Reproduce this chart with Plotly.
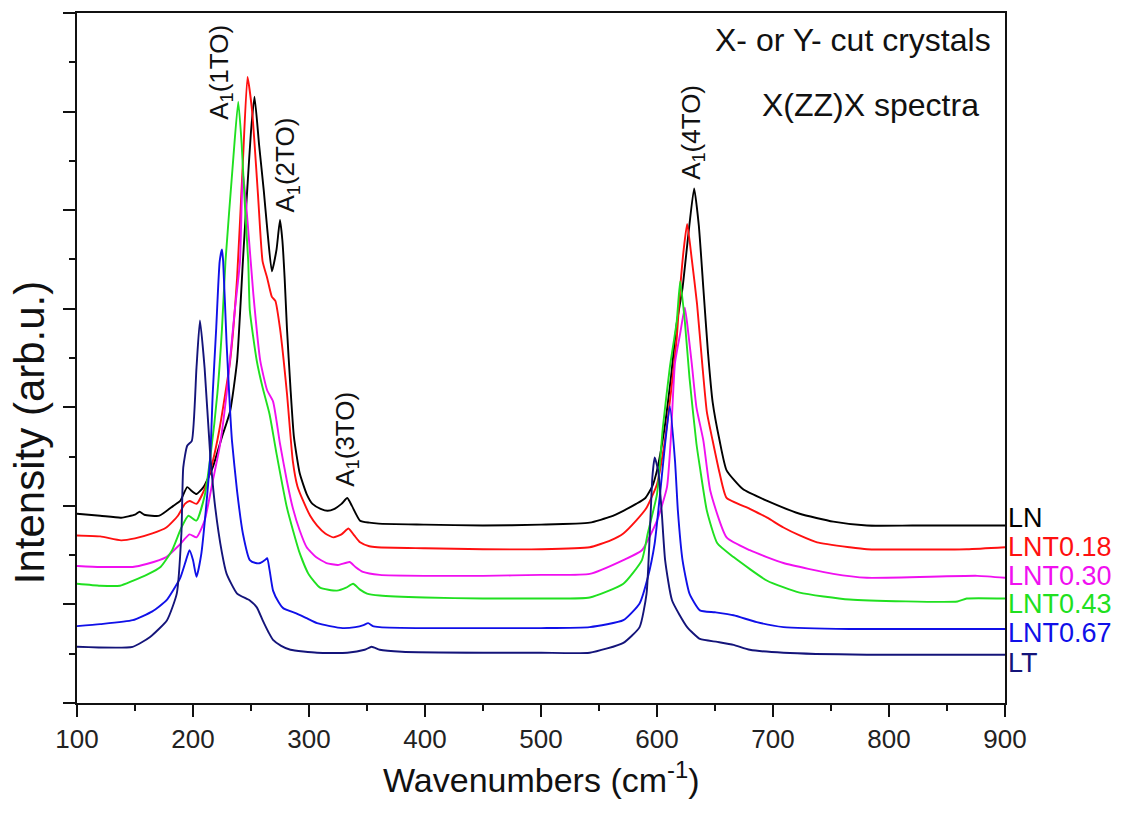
import plotly.graph_objects as go

# Raman spectra, X(ZZ)X geometry, offset vertically per composition
LN_x = [100, 120, 138, 150, 154, 158, 171, 183, 189, 195, 199, 203, 209, 217, 225, 232, 238, 243, 246.5, 250, 253,
        257, 261, 264, 268, 272, 275, 277, 279, 281, 284, 287, 292, 298, 303, 310, 316, 322, 328, 333, 337, 344, 352,
        360, 400, 450, 500, 542, 560, 571, 582, 590, 596, 600, 606, 612, 617, 622, 627, 632, 636, 640, 644, 648, 654,
        660, 674, 695, 723, 752, 781, 820, 860, 900]
LN_y = [1.92, 1.90, 1.88, 1.91, 1.94, 1.91, 1.90, 2.00, 2.05, 2.19, 2.15, 2.12, 2.19, 2.39, 2.70, 2.96, 3.47, 4.48, 5.16, 5.80, 6.15,
        5.66, 5.20, 4.81, 4.38, 4.60, 4.90, 4.70, 4.31, 3.80, 3.20, 2.70, 2.33, 2.12, 2.02, 1.97, 1.95, 1.97, 2.02, 2.08, 2.00, 1.85, 1.83,
        1.82, 1.81, 1.80, 1.81, 1.83, 1.89, 1.95, 2.02, 2.08, 2.20, 2.36, 2.75, 3.30, 3.85, 4.21, 4.75, 5.22, 4.85, 4.20, 3.55, 3.05, 2.66,
        2.36, 2.17, 2.05, 1.92, 1.84, 1.80, 1.80, 1.80, 1.80]

LNT018_x = [100, 120, 138, 150, 165, 177, 187, 193, 197, 203, 210, 217, 223, 232, 238, 243, 247, 251, 256, 260, 264, 268,
            271, 275, 281, 286, 290, 295, 301, 307, 314, 321, 328, 334, 339, 344, 352, 359, 400, 450, 500, 542, 560, 571,
            582, 591, 600, 606, 612, 617, 620, 623, 626, 630, 634.5, 639, 643, 648, 654, 660, 680, 695, 709, 723, 738, 766,
            781, 867, 900]
LNT018_y = [1.70, 1.69, 1.65, 1.67, 1.72, 1.78, 1.90, 2.02, 2.05, 2.02, 2.17, 2.45, 2.79, 3.47, 4.31, 5.49, 6.35, 6.00, 5.16, 4.48, 4.31, 4.12,
            4.08, 3.80, 3.14, 2.46, 2.20, 2.05, 1.90, 1.80, 1.72, 1.68, 1.71, 1.77, 1.70, 1.63, 1.59, 1.58, 1.57, 1.56, 1.56, 1.58, 1.65, 1.72,
            1.85, 1.98, 2.22, 2.60, 3.15, 3.70, 4.21, 4.60, 4.86, 4.50, 4.05, 3.44, 2.95, 2.66, 2.33, 2.08, 1.97, 1.88, 1.78, 1.70, 1.63, 1.58,
            1.56, 1.56, 1.58]

LNT030_x = [100, 120, 137, 148, 160, 177, 188, 197, 203, 210, 217, 223, 229, 236, 240.5, 243, 247, 252, 258, 264, 269, 275,
            281, 286, 292, 298, 306, 315, 325, 335, 340, 346.5, 361, 400, 450, 500, 542, 571, 587, 600, 608.6, 612, 615.5,
            620, 624, 627, 630, 634, 640, 646, 660, 680, 709, 752, 781, 876, 900]
LNT030_y = [1.39, 1.38, 1.38, 1.38, 1.41, 1.48, 1.60, 1.71, 1.68, 1.85, 2.25, 2.60, 3.14, 3.98, 4.48, 5.39, 4.89, 4.15, 3.47, 3.17, 3.06, 2.63,
            2.25, 1.98, 1.75, 1.58, 1.48, 1.42, 1.40, 1.43, 1.38, 1.33, 1.30, 1.29, 1.29, 1.30, 1.31, 1.45, 1.55, 1.85, 2.19, 2.70, 3.45,
            3.75, 4.01, 3.75, 3.44, 3.00, 2.66, 2.15, 1.68, 1.55, 1.42, 1.31, 1.27, 1.29, 1.27]

LNT043_x = [100, 120, 137, 148, 160, 172, 182, 190, 196, 203, 210, 215, 221, 225, 228, 234.5, 239, 242, 245, 247.6, 249, 255,
            260, 266, 272, 281, 292, 300, 309.5, 324, 332, 338, 344, 350, 361, 400, 450, 500, 542, 571, 587, 592, 600, 605,
            611, 617, 620, 624, 628, 634, 637, 643, 652, 666, 695, 723, 766, 859, 867, 900]
LNT043_y = [1.21, 1.19, 1.19, 1.24, 1.30, 1.38, 1.55, 1.78, 1.90, 1.85, 2.10, 2.50, 3.14, 3.80, 4.48, 5.49, 6.10, 5.66, 4.99, 4.48, 3.98, 3.47,
            3.20, 2.93, 2.53, 1.98, 1.52, 1.30, 1.17, 1.14, 1.17, 1.21, 1.15, 1.11, 1.09, 1.07, 1.06, 1.06, 1.07, 1.21, 1.45, 1.72, 2.12, 2.79,
            3.40, 3.87, 4.28, 3.87, 3.30, 2.63, 2.39, 1.95, 1.62, 1.48, 1.24, 1.12, 1.05, 1.03, 1.06, 1.06]

LNT067_x = [100, 120, 148, 165, 177, 189, 194, 197, 200, 203, 207, 211, 215, 217, 220, 223, 225, 226, 229, 232, 233.6, 238,
            243, 249, 254, 258, 262, 264, 266, 269, 274, 278, 289, 298, 307, 318, 329, 340, 347, 351, 355, 361, 400, 450,
            500, 542, 571, 585, 592, 598, 602.6, 607, 611, 615.5, 618, 622, 628, 637, 650, 666, 686, 709, 766, 900]
LNT067_y = [0.78, 0.80, 0.84, 0.93, 1.04, 1.27, 1.45, 1.55, 1.45, 1.28, 1.50, 1.95, 2.53, 3.14, 3.80, 4.48, 4.60, 4.48, 3.64, 2.96, 2.66, 2.15,
            1.72, 1.45, 1.42, 1.42, 1.45, 1.47, 1.35, 1.14, 1.02, 0.96, 0.91, 0.86, 0.81, 0.78, 0.76, 0.77, 0.79, 0.81, 0.78, 0.77, 0.76, 0.76,
            0.76, 0.77, 0.84, 1.01, 1.27, 1.62, 2.12, 2.63, 3.01, 2.46, 1.95, 1.45, 1.11, 0.94, 0.92, 0.89, 0.82, 0.77, 0.75, 0.75]

LT_x = [100, 148, 163, 177.6, 186, 190, 191.6, 195, 199, 203, 206, 210, 214.6, 219, 225, 229, 238, 249, 255, 260, 265, 269,
        276, 284, 307, 333, 348, 354, 361, 380, 450, 500, 542, 571, 585, 591, 594, 596, 598, 601, 604, 607, 613, 626, 637,
        652, 666, 680, 709, 781, 900]
LT_y = [0.57, 0.57, 0.67, 0.84, 1.11, 1.72, 2.39, 2.61, 2.66, 3.40, 3.88, 3.40, 2.56, 2.00, 1.52, 1.31, 1.11, 1.04, 0.97, 0.84, 0.72, 0.64,
        0.58, 0.54, 0.51, 0.51, 0.54, 0.57, 0.54, 0.52, 0.51, 0.51, 0.51, 0.61, 0.77, 1.11, 1.78, 2.29, 2.49, 2.36, 1.95, 1.45, 1.04, 0.77, 0.65,
        0.62, 0.59, 0.54, 0.51, 0.49, 0.49]

series_names = ["LN", "LNT0.18", "LNT0.30", "LNT0.43", "LNT0.67", "LT"]
series_x = [LN_x, LNT018_x, LNT030_x, LNT043_x, LNT067_x, LT_x]
series_y = [LN_y, LNT018_y, LNT030_y, LNT043_y, LNT067_y, LT_y]
series_colors = ["#000000", "#ff1010", "#f010f0", "#20e020", "#1010e8", "#14147a"]
label_y = [1.88, 1.58, 1.29, 1.00, 0.71, 0.41]

# Mode assignments: (label, wavenumber, bottom of rotated text)
peak_labels = ["A<sub>1</sub>(1TO)", "A<sub>1</sub>(2TO)", "A<sub>1</sub>(3TO)", "A<sub>1</sub>(4TO)"]
peak_x = [224, 281, 332, 630]
peak_y = [5.90, 4.96, 2.17, 5.29]

FONT = "Liberation Sans, Arial, sans-serif"

fig = go.Figure()
for name, xs, ys, col in zip(series_names, series_x, series_y, series_colors):
    fig.add_trace(go.Scatter(x=xs, y=ys, mode="lines", name=name,
                             line=dict(color=col, width=1.9, shape="spline", smoothing=0.5),
                             showlegend=False))

annotations = []
for name, yv, col in zip(series_names, label_y, series_colors):
    annotations.append(dict(x=1.0, xref="paper", y=yv, yref="y", text=name, showarrow=False,
                            xanchor="left", yanchor="middle", xshift=1,
                            font=dict(family=FONT, size=27, color=col)))
for t, xv, yv in zip(peak_labels, peak_x, peak_y):
    annotations.append(dict(x=xv, y=yv, xref="x", yref="y", text=t, showarrow=False, textangle=-90,
                            xanchor="center", yanchor="bottom",
                            font=dict(family=FONT, size=26, color="#111")))
annotations.append(dict(x=0.987, y=0.961, xref="paper", yref="paper", text="X- or Y- cut crystals",
                        showarrow=False, xanchor="right", yanchor="middle",
                        font=dict(family=FONT, size=32, color="#111")))
annotations.append(dict(x=0.974, y=0.867, xref="paper", yref="paper", text="X(ZZ)X spectra",
                        showarrow=False, xanchor="right", yanchor="middle",
                        font=dict(family=FONT, size=32, color="#111")))
annotations.append(dict(x=0.5, y=-0.108, xref="paper", yref="paper", text="Wavenumbers (cm<sup>-1</sup>)",
                        showarrow=False, xanchor="center", yanchor="middle",
                        font=dict(family=FONT, size=34, color="#111")))
annotations.append(dict(x=-0.051, y=0.392, xref="paper", yref="paper", text="Intensity (arb.u.)",
                        showarrow=False, xanchor="center", yanchor="middle", textangle=-90,
                        font=dict(family=FONT, size=42, color="#111")))

fig.update_layout(
    width=1134, height=814,
    margin=dict(l=77, r=129, t=11, b=111),
    paper_bgcolor="white", plot_bgcolor="white",
    annotations=annotations,
    xaxis=dict(range=[100, 900], tickmode="linear", tick0=100, dtick=100,
               ticks="outside", ticklen=12, tickwidth=2, tickcolor="#111",
               minor=dict(ticks="outside", ticklen=6, tickwidth=2, tickcolor="#111", dtick=50, tick0=100),
               showline=True, linecolor="#111", linewidth=2, mirror=True,
               showgrid=False, zeroline=False,
               tickfont=dict(family=FONT, size=26, color="#222")),
    yaxis=dict(range=[0, 7], tickmode="linear", tick0=0, dtick=1,
               ticks="outside", ticklen=12, tickwidth=2, tickcolor="#111",
               minor=dict(ticks="outside", ticklen=6, tickwidth=2, tickcolor="#111", dtick=0.5, tick0=0),
               showticklabels=False,
               showline=True, linecolor="#111", linewidth=2, mirror=True,
               showgrid=False, zeroline=False),
)

fig.write_html("out.html")
